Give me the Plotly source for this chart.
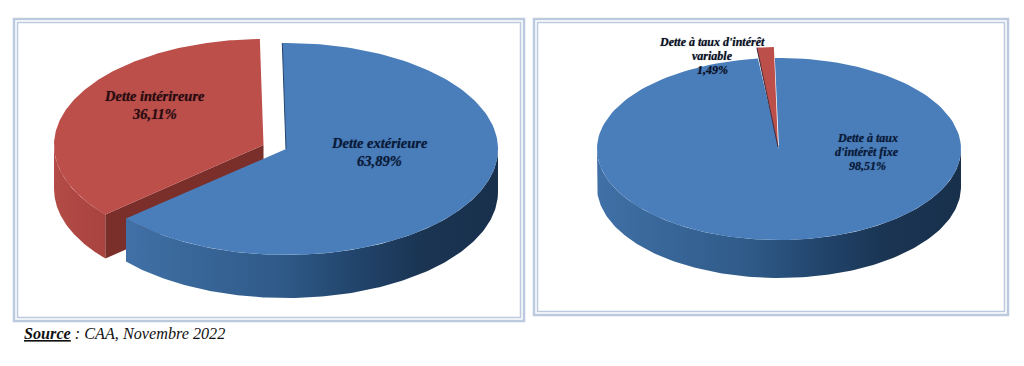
import numpy as np
import plotly.graph_objects as go

# ---- data ----
left_names = ["Dette extérieure", "Dette intérireure"]
left_values = [63.89, 36.11]
right_names = [["Dette à taux", "d'intérêt fixe"], ["Dette à taux d'intérêt", "variable"]]
right_values = [98.51, 1.49]
source_bold = "Source"
source_rest = " : CAA, Novembre 2022"

# ---- style ----
BLUE = "#4a7ebb"
RED = "#bd4f4b"
RED_CUT = "#7a2f2b"
RED_WALL = [[0, "#b34b46"], [1, "#a8433f"]]
BLUE_WALL = [[0, "#4070a6"], [0.42, "#2f5a88"], [0.62, "#21446b"], [0.8, "#1a3452"], [1, "#18304c"]]
FRAME = "#bccae0"
SERIF = "Liberation Serif, Times New Roman, serif"

fig = go.Figure()


def arc(cx, cy, rx, ry, a0, a1, n=160):
    t = np.radians(np.linspace(a0, a1, n))
    return cx + rx * np.sin(t), cy - ry * np.cos(t)


def poly(x, y, color=None, gradient=None):
    kw = dict(fillgradient=dict(type="horizontal", colorscale=gradient)) if gradient else dict(fillcolor=color)
    fig.add_trace(go.Scatter(x=list(x), y=list(y), mode="lines", fill="toself",
                             line=dict(width=0), hoverinfo="skip", showlegend=False, **kw))


def line(x, y, color, width=1):
    fig.add_trace(go.Scatter(x=list(x), y=list(y), mode="lines", line=dict(color=color, width=width),
                             hoverinfo="skip", showlegend=False))


def wedge(cx, cy, rx, ry, a0, a1, color):
    ax, ay = arc(cx, cy, rx, ry, a0, a1)
    poly(np.r_[cx, ax, cx], np.r_[cy, ay, cy], color)


def wall(cx, cy, rx, ry, depth, a0, a1, color=None, gradient=None):
    ax, ay = arc(cx, cy, rx, ry, a0, a1)
    poly(np.r_[ax, ax[::-1], ax[0]], np.r_[ay, ay[::-1] + depth, ay[0]], color, gradient)


# ---- left pie ----
L0 = -1.0
sweep_ext = 360 * left_values[0] / sum(left_values)
lb = dict(cx=286, cy=149, rx=212, ry=106)
lr = dict(cx=263.5, cy=145, rx=209.5, ry=106)
L_DEPTH = 43
a_end = L0 + sweep_ext
# red slice: wall, cut face, top
wall(**lr, depth=L_DEPTH + 1, a0=a_end, a1=270, gradient=RED_WALL)
ex, ey = arc(lr["cx"], lr["cy"], lr["rx"], lr["ry"], a_end, a_end, 1)
poly([lr["cx"], ex[0], ex[0], lr["cx"], lr["cx"]],
     [lr["cy"], ey[0], ey[0] + L_DEPTH + 1, lr["cy"] + L_DEPTH + 1, lr["cy"]], RED_CUT)
wedge(**lr, a0=a_end, a1=L0 + 360, color=RED)
# blue slice: wall, top
wall(**lb, depth=L_DEPTH, a0=90, a1=a_end, gradient=BLUE_WALL)
wedge(**lb, a0=L0, a1=a_end, color=BLUE)
sx, sy = arc(lb["cx"], lb["cy"], lb["rx"], lb["ry"], L0, L0, 1)
line([lb["cx"], sx[0]], [lb["cy"], sy[0]], "#24456e", 1)

# ---- right pie ----
R0 = -1.3
sweep_fix = 360 * right_values[0] / sum(right_values)
rb = dict(cx=779, cy=149, rx=182, ry=91)
rr = dict(cx=778, cy=147, rx=182, ry=100)
R_DEPTH = 38
wall(**rb, depth=R_DEPTH, a0=90, a1=270, gradient=BLUE_WALL)
wedge(**rb, a0=R0, a1=R0 + sweep_fix, color=BLUE)
wedge(**rr, a0=R0 + sweep_fix, a1=R0 + 360, color=RED)
sx, sy = arc(rr["cx"], rr["cy"], rr["rx"], rr["ry"], R0 + sweep_fix, R0 + sweep_fix, 1)
line([rr["cx"], sx[0]], [rr["cy"], sy[0]], "#3d2a3c", 1)


def pct(v):
    return f"{v:.2f}".replace(".", ",") + "%"


def label(x, y0, pitch, lines, size, color):
    for i, text in enumerate(lines):
        fig.add_annotation(x=x, y=y0 + i * pitch, xref="x", yref="y", text=text, showarrow=False,
                           xanchor="center", yanchor="middle",
                           font=dict(family=SERIF, size=size, color=color, weight="bold", style="italic",
                                     shadow="0 0 1px rgba(10,20,40,0.55)"))


label(154, 96, 18, [left_names[1], pct(left_values[1])], 14.5, "#2c0a0c")
label(379, 143, 18, [left_names[0], pct(left_values[0])], 14.5, "#0a1a3a")
label(867, 138, 14, right_names[0] + [pct(right_values[0])], 12, "#0a1a3a")
label(712, 42, 14, right_names[1] + [pct(right_values[1])], 12, "#0a0f24")

fig.add_annotation(x=21.5, y=334, xref="x", yref="y", showarrow=False, xanchor="left", yanchor="middle",
                   text=f"<b><u>{source_bold}</u></b>{source_rest}",
                   font=dict(family=SERIF, size=16.2, color="#111111", style="italic"))

# ---- frames ----
for x0, y0, x1, y1 in [(14, 19, 524, 321), (534, 19, 1008, 315)]:
    fig.add_shape(type="rect", x0=x0, y0=y0, x1=x1, y1=y1, line=dict(color=FRAME, width=2.5), layer="below")
    fig.add_shape(type="rect", x0=x0 + 3.5, y0=y0 + 3.5, x1=x1 - 3.5, y1=y1 - 3.5,
                  line=dict(color=FRAME, width=1.5), layer="below")

fig.update_layout(width=1024, height=366, margin=dict(l=0, r=0, t=0, b=0), autosize=False,
                  paper_bgcolor="white", plot_bgcolor="white", showlegend=False)
fig.update_xaxes(range=[0, 1024], visible=False, fixedrange=True)
fig.update_yaxes(range=[366, 0], visible=False, fixedrange=True)

fig.write_html("out.html", config=dict(displayModeBar=False),
               post_script="document.body.style.margin='0';document.body.style.overflow='hidden';")
